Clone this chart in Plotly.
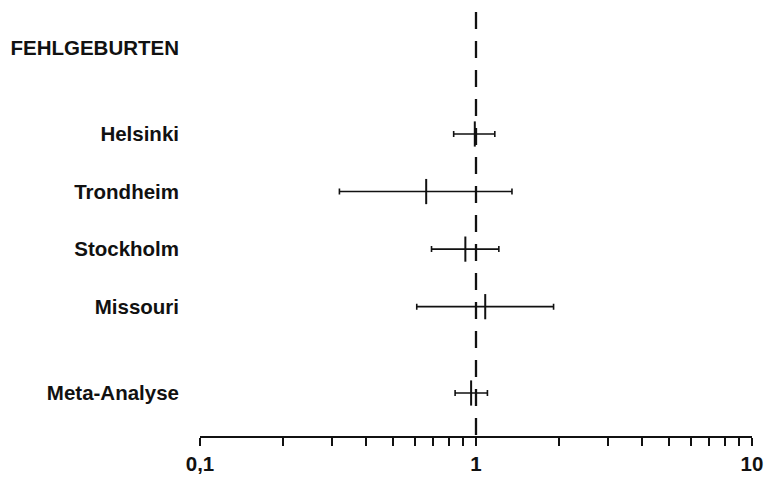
import plotly.graph_objects as go

# ---- data ----
header = "FEHLGEBURTEN"
studies = ["Helsinki", "Trondheim", "Stockholm", "Missouri", "Meta-Analyse"]
estimate = [0.99, 0.66, 0.915, 1.08, 0.96]
ci_low = [0.83, 0.32, 0.69, 0.61, 0.84]
ci_high = [1.17, 1.35, 1.21, 1.91, 1.10]
x_tick_vals = [0.1, 1, 10]
x_tick_text = ["0,1", "1", "10"]
reference_value = 1

# ---- layout constants ----
row_pos = [1.5, 2.5, 3.5, 4.5, 6.0]
header_pos = 0.0
y_range = [6.747, -0.828]
minor_vals = [k * 10 ** e for e in (-1, 0) for k in range(2, 10)]
FONT = "Liberation Sans, Arial, sans-serif"
INK = "#111111"
FS = 20.5

fig = go.Figure()

# reference dashed line at 1
fig.add_trace(go.Scatter(
    x=[reference_value, reference_value], y=[-0.62, y_range[0]],
    mode="lines", line=dict(color=INK, width=2.3, dash="17px,12px"),
    hoverinfo="skip", showlegend=False,
))

fig.add_trace(go.Scatter(
    x=estimate, y=row_pos, mode="markers",
    marker=dict(symbol="line-ns", size=18, line=dict(color=INK, width=2), color=INK),
    error_x=dict(type="data", symmetric=False,
                 array=[h - e for h, e in zip(ci_high, estimate)],
                 arrayminus=[e - l for e, l in zip(estimate, ci_low)],
                 color=INK, thickness=1.6, width=3),
    showlegend=False,
))

fig.update_layout(
    width=770, height=479,
    margin=dict(l=200, r=18, t=0, b=43, autoexpand=False),
    paper_bgcolor="white", plot_bgcolor="white",
    font=dict(family=FONT, size=FS, color=INK, weight="bold"),
    xaxis=dict(
        type="log", range=[-1, 1], automargin=False,
        tickmode="array", tickvals=x_tick_vals, ticktext=x_tick_text,
        ticks="outside", ticklen=8, tickwidth=2, tickcolor=INK,
        minor=dict(tickmode="array", tickvals=minor_vals, ticks="outside",
                   ticklen=8, tickwidth=1.6, tickcolor=INK, showgrid=False),
        showline=True, linewidth=2, linecolor=INK,
        showgrid=False, zeroline=False,
        tickfont=dict(family=FONT, size=FS, color=INK, weight="bold"),
    ),
    yaxis=dict(
        range=y_range, automargin=False,
        tickmode="array", tickvals=[header_pos] + row_pos, ticktext=[header] + studies,
        ticks="", showline=False, showgrid=False, zeroline=False,
        ticklabelstandoff=20,
        tickfont=dict(family=FONT, size=FS, color=INK, weight="bold"),
    ),
)

fig.write_html(
    "out.html",
    config={"displayModeBar": False},
    post_script="document.body.style.margin='0px';document.body.style.overflow='hidden';",
)
